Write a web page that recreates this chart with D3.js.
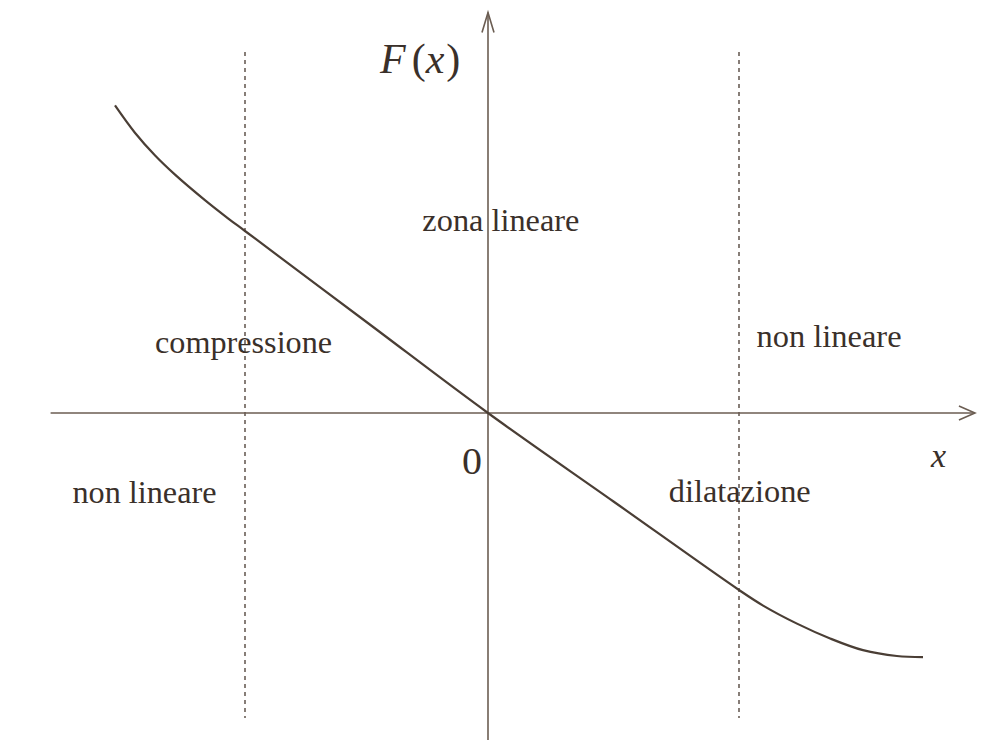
<!DOCTYPE html>
<html>
<head>
<meta charset="utf-8">
<script src="https://cdn.jsdelivr.net/npm/d3@7"></script>
<style>
  body { margin: 0; background: #fff; }
  text { font-family: "Liberation Serif", "DejaVu Serif", serif; fill: #3a302a; }
</style>
</head>
<body>
<div id="chart"></div>
<script>
// Data
const curveX = [-1.535, -1.453, -1.37, -1.288, -1.165, -1.07, -1, -0.5, 0, 0.5, 1, 1.096, 1.231, 1.363, 1.494, 1.629, 1.733];
const curveF = [1.69, 1.54, 1.415, 1.31, 1.17, 1.07, 1, 0.5, 0, -0.5, -1, -1.088, -1.19, -1.274, -1.34, -1.373, -1.379];
const boundaries = [-1, 1];
const axisX = [-1.8, 1.94];
const axisF = [-1.85, 2.2];
const zoneLabels = ['non lineare', 'compressione', 'zona lineare', 'non lineare', 'dilatazione'];
const zoneLabelX = [-1.71, -1.37, -0.27, 1.07, 0.72];
const zoneLabelF = [-0.51, 0.33, 1.0, 0.36, -0.50];
const zoneLabelW = [144, 177, 157, 145, 142];

async function draw() {
    let dimensions = {
        width: 1000,
        height: 740
    };

    const svg = d3.select('#chart')
        .append('svg')
        .attr('width', dimensions.width)
        .attr('height', dimensions.height);

    // Scales
    const xScale = d3.scaleLinear()
        .domain([-1, 0, 1])
        .range([245, 488, 739]);

    const yScale = d3.scaleLinear()
        .domain([-1, 0, 1])
        .range([590, 413, 231]);

    const ink = '#4a3e35';
    const axisInk = '#6b5d52';

    // Dotted boundaries of the linear zone
    svg.append('g')
        .selectAll('line')
        .data(boundaries)
        .join('line')
        .attr('x1', d => xScale(d))
        .attr('x2', d => xScale(d))
        .attr('y1', 52)
        .attr('y2', 718)
        .attr('stroke', '#55483f')
        .attr('stroke-width', 1.4)
        .attr('stroke-dasharray', '4,4');

    // Axes
    const axes = svg.append('g')
        .attr('stroke', axisInk)
        .attr('stroke-width', 1.6)
        .attr('fill', 'none');

    axes.append('line')
        .attr('x1', xScale(axisX[0]))
        .attr('x2', xScale(axisX[1]))
        .attr('y1', yScale(0))
        .attr('y2', yScale(0));

    axes.append('line')
        .attr('x1', xScale(0))
        .attr('x2', xScale(0))
        .attr('y1', yScale(axisF[0]))
        .attr('y2', yScale(axisF[1]));

    // arrow heads
    const xt = xScale(axisX[1]), yt = yScale(0);
    axes.append('path')
        .attr('d', `M${xt - 16},${yt - 7} L${xt},${yt} L${xt - 16},${yt + 7}`);
    const xa = xScale(0), ya = yScale(axisF[1]);
    axes.append('path')
        .attr('d', `M${xa - 6},${ya + 20} L${xa},${ya} L${xa + 6},${ya + 20}`);

    // Curve
    const points = curveX.map((x, i) => [x, curveF[i]]);
    const line = d3.line()
        .x(d => xScale(d[0]))
        .y(d => yScale(d[1]))
        .curve(d3.curveCatmullRom.alpha(0.5));

    svg.append('path')
        .datum(points)
        .attr('d', line)
        .attr('fill', 'none')
        .attr('stroke', ink)
        .attr('stroke-width', 2.2);

    // Zone labels
    svg.append('g')
        .selectAll('text')
        .data(zoneLabels)
        .join('text')
        .attr('x', (d, i) => xScale(zoneLabelX[i]))
        .attr('y', (d, i) => yScale(zoneLabelF[i]))
        .attr('font-size', 31)
        .attr('textLength', (d, i) => zoneLabelW[i])
        .attr('lengthAdjust', 'spacingAndGlyphs')
        .text(d => d);

    // Axis labels
    svg.append('text')
        .attr('x', 462)
        .attr('y', 474)
        .attr('font-size', 38)
        .attr('textLength', 20)
        .attr('lengthAdjust', 'spacingAndGlyphs')
        .text('0');

    svg.append('text')
        .attr('x', 931)
        .attr('y', 467)
        .attr('font-size', 34)
        .attr('font-style', 'italic')
        .text('x');

    const fx = svg.append('text')
        .attr('x', 380)
        .attr('y', 73)
        .attr('font-size', 42);
    fx.append('tspan').attr('font-style', 'italic').text('F');
    fx.append('tspan').attr('dx', 6).text('(');
    fx.append('tspan').attr('font-style', 'italic').text('x');
    fx.append('tspan').attr('dx', 2).text(')');
}

draw();
</script>
</body>
</html>
